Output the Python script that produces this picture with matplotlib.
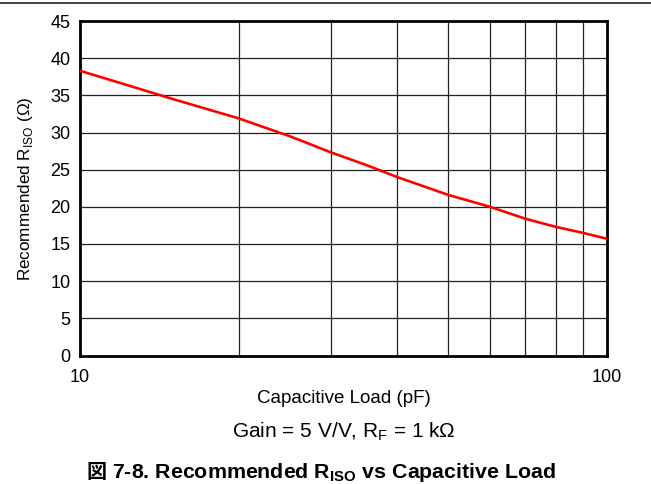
import matplotlib

matplotlib.use("Agg")

import matplotlib.pyplot as plt
from matplotlib.ticker import FixedLocator, NullLocator

plt.rcParams["font.family"] = ["Liberation Sans", "Noto Sans CJK JP"]

# capacitive load (pF) vs recommended R_ISO (ohm)
cap_load = [10, 12, 15, 20, 25, 30, 35, 40, 50, 60, 70, 80, 90, 100]
r_iso = [38.3, 36.6, 34.5, 31.9, 29.5, 27.3, 25.6, 24.0, 21.6, 20.0, 18.4, 17.3, 16.5, 15.7]

y_ticks = [0, 5, 10, 15, 20, 25, 30, 35, 40, 45]
x_labels = {10: "10", 100: "100"}

fig = plt.figure(figsize=(6.51, 4.84), dpi=100)
ax = fig.add_axes([80 / 651, 1 - 355.5 / 484, 527 / 651, 334.5 / 484])

ax.plot(cap_load, r_iso, color="#ff0000", lw=1.9, zorder=3)

ax.set_xscale("log")
ax.set_xlim(10, 100)
ax.set_ylim(0, 45)

ax.xaxis.set_major_locator(FixedLocator(list(x_labels)))
ax.xaxis.set_minor_locator(NullLocator())
ax.set_xticklabels(list(x_labels.values()))
ax.set_yticks(y_ticks)

# log grid lines between the decades
for x in range(20, 100, 10):
    ax.axvline(x, color="#222222", lw=0.9, zorder=1)
for y in y_ticks[1:-1]:
    ax.axhline(y, color="#222222", lw=0.9, zorder=1)

ax.tick_params(axis="both", length=0, labelsize=13)
ax.tick_params(axis="x", pad=10)
ax.tick_params(axis="y", pad=7)
for s in ax.spines.values():
    s.set_linewidth(2.0)

ax.set_ylabel(r"Recommended R$_\mathregular{ISO}$ (Ω)", fontsize=12.3)
ax.yaxis.set_label_coords(-0.085, 0.5)

fig.text(0.5 * (80 + 607) / 651, 1 - 403 / 484, "Capacitive Load (pF)",
         ha="center", va="baseline", fontsize=13.5)
fig.text(0.5 * (80 + 607) / 651, 1 - 437 / 484, r"Gain = 5 V/V, R$_\mathregular{F}$ = 1 kΩ",
         ha="center", va="baseline", fontsize=15)

fig.text(86 / 651, 1 - 477.5 / 484, "図", ha="left", va="baseline",
         fontsize=14.5, fontweight="bold")
fig.text(112 / 651, 1 - 477.5 / 484, r"7-8. Recommended R$_\mathregular{ISO}$ vs Capacitive Load",
         ha="left", va="baseline", fontsize=15.4, fontweight="bold")

fig.add_artist(plt.Line2D([0, 1], [1 - 2.5 / 484] * 2, color="#222222", lw=1.2))

fig.savefig("out.png", dpi=100)
